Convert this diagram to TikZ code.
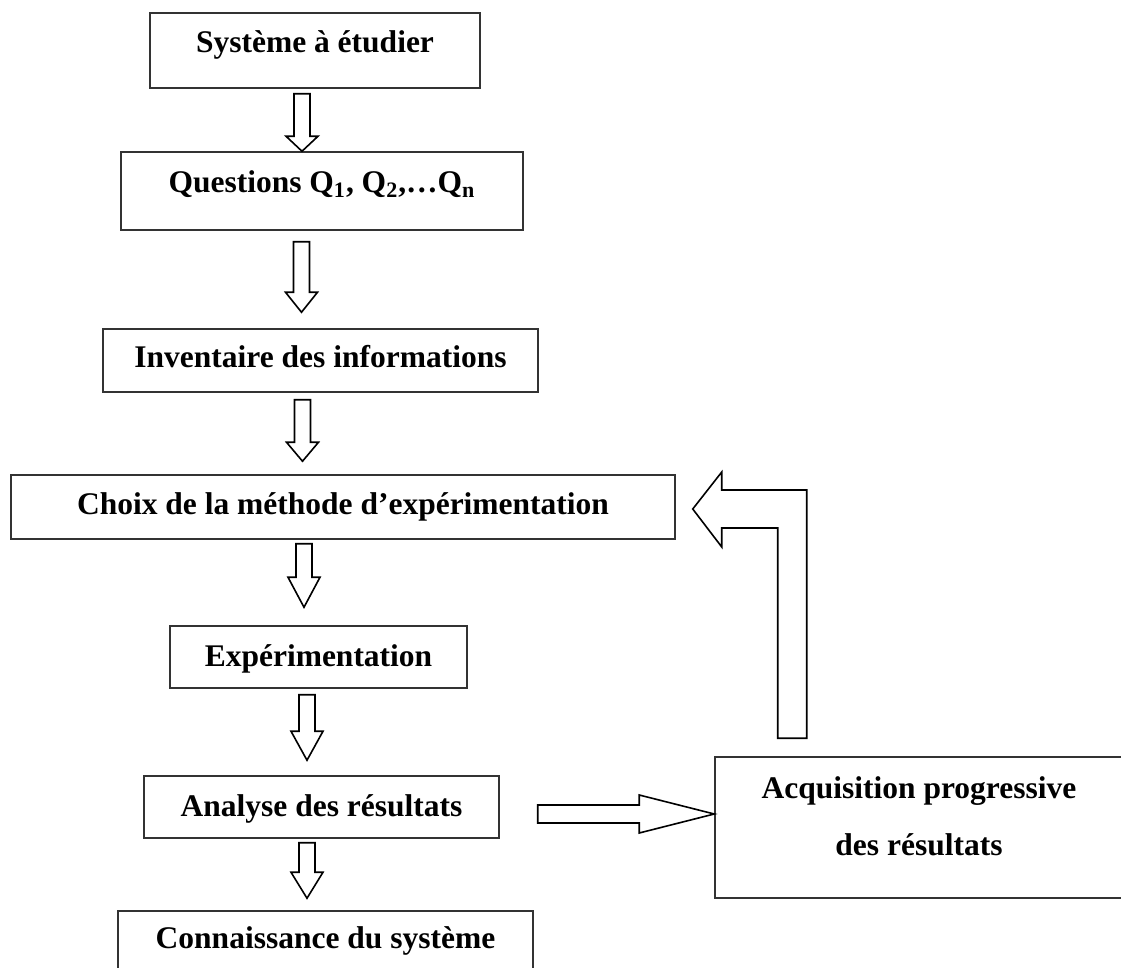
\documentclass[tikz,border=0pt]{standalone}
\usepackage{fontspec}
\setmainfont{Liberation Serif}
\usetikzlibrary{calc}

% hollow block arrow pointing down: from, to, x, top gap, tip gap, head length
\newcommand{\blockdown}[6]{%
  \draw[blockarr] let \p1=(#3,0), \p2=($(#1.south)+(0,#4)$), \p3=($(#2.north)+(0,-#5)$) in
    (\x1-4pt,\y2) -- (\x1+4pt,\y2) -- (\x1+4pt,\y3+#6*0.5pt) -- (\x1+8pt,\y3+#6*0.5pt)
    -- (\x1,\y3) -- (\x1-8pt,\y3+#6*0.5pt) -- (\x1-4pt,\y3+#6*0.5pt) -- cycle;}

\begin{document}
\begin{tikzpicture}[x=0.5pt, y=-0.5pt,
        box/.style={draw=black!80, line width=0.75pt, inner sep=0pt, anchor=base,
                font=\fontsize{15.75}{19}\selectfont\bfseries},
        blockarr/.style={draw=black, line width=0.8pt, line join=miter}]
        \useasboundingbox (0,0) rectangle (1121,968);

        \node[box, minimum width=165pt, text height=20pt, text depth=17.5pt] (sys) at (315,53) {Système à étudier};
        \node[box, minimum width=201pt, text height=20.5pt, text depth=18.5pt] (quest) at (322,193)
                {Questions Q\textsubscript{1}, Q\textsubscript{2},…Q\textsubscript{n}};
        \node[box, minimum width=217.5pt, text height=19.5pt, text depth=12pt] (inv) at (320.5,368) {Inventaire des informations};
        \node[box, minimum width=332pt, text height=20pt, text depth=12pt] (choix) at (343,515) {Choix de la méthode d’expérimentation};
        \node[box, minimum width=148.5pt, text height=20.5pt, text depth=10.5pt] (exp) at (318.5,667) {Expérimentation};
        \node[box, minimum width=177.5pt, text height=20pt, text depth=11pt] (ana) at (321.5,816) {Analyse des résultats};
        \node[box, minimum width=207.5pt, text height=18.5pt, text depth=21pt] (conn) at (325.5,948) {Connaissance du système};
        \node[box, minimum width=204pt, text height=49.5pt, text depth=21pt] (acq) at (919,856)
                {\begin{tabular}[b]{@{}c@{}}Acquisition progressive\\[9.5pt]des résultats\end{tabular}};

        \blockdown{sys}{quest}{302}{5}{0}{15}
        \blockdown{quest}{inv}{301.5}{11}{16}{20}
        \blockdown{inv}{choix}{302.5}{7}{13}{19}
        \blockdown{choix}{exp}{304}{4}{18}{30}
        \blockdown{exp}{ana}{307}{6}{15}{29}
        \blockdown{ana}{conn}{307}{4}{12}{26}

        % arrow to the right
        \draw[blockarr] let \p1=($(ana.east)+(38,7)$), \p2=(acq.west) in
                (\x1,\y1+4.5pt) -- (\x2-37.5pt,\y1+4.5pt) -- (\x2-37.5pt,\y1+9.5pt) -- (\x2,\y1)
                -- (\x2-37.5pt,\y1-9.5pt) -- (\x2-37.5pt,\y1-4.5pt) -- (\x1,\y1-4.5pt) -- cycle;
        % return arrow
        \draw[blockarr] let \p1=($(choix.east)+(17,2)$), \p2=($(acq.north)+(0,-18)$) in
                (\x1,\y1) -- (\x1+14.5pt,\y1+18.5pt) -- (\x1+14.5pt,\y1+9.5pt) -- (\x1+57pt,\y1+9.5pt)
                -- (\x1+57pt,\y2) -- (\x1+42.5pt,\y2) -- (\x1+42.5pt,\y1-9.5pt) -- (\x1+14.5pt,\y1-9.5pt)
                -- (\x1+14.5pt,\y1-19pt) -- cycle;
\end{tikzpicture}
\end{document}
